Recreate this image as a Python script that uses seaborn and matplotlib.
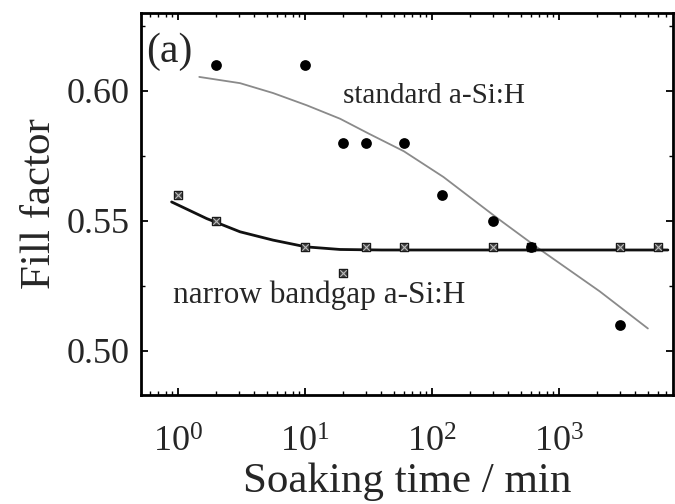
import numpy as np
import pandas as pd
import matplotlib
matplotlib.use("Agg")
import matplotlib.pyplot as plt
import seaborn as sns
from matplotlib.ticker import LogLocator, MultipleLocator, FixedLocator, FormatStrFormatter, NullFormatter

# ---- data ----
std_time = [2, 10, 20, 30, 60, 120, 300, 600, 3000]
std_ff = [0.61, 0.61, 0.58, 0.58, 0.58, 0.56, 0.55, 0.54, 0.51]

nb_time = [1, 2, 10, 20, 30, 60, 300, 600, 3000, 6000]
nb_ff = [0.56, 0.55, 0.54, 0.53, 0.54, 0.54, 0.54, 0.54, 0.54, 0.54]

# fitted guide curves
std_fit_time = [1.47, 3.08, 5.6, 10.3, 18.9, 32, 60, 123, 324, 708, 2090, 5010]
std_fit_ff = [0.6054, 0.6030, 0.5992, 0.5945, 0.5893, 0.5835, 0.5768, 0.5669, 0.5512, 0.5390, 0.5229, 0.5086]

nb_fit_time = [0.89, 1.68, 3.08, 5.6, 10.2, 18.9, 40, 7200]
nb_fit_ff = [0.5573, 0.5509, 0.5458, 0.5426, 0.5400, 0.5390, 0.5388, 0.5388]

y_ticks = [0.50, 0.55, 0.60]
x_ticks = [1, 10, 100, 1000]

sns.set_theme(style="ticks")
plt.rcParams['font.family'] = ['Liberation Serif', 'DejaVu Serif']
plt.rcParams['mathtext.fontset'] = 'custom'
plt.rcParams['mathtext.rm'] = 'Liberation Serif'

fig = plt.figure(figsize=(6.75, 5.04), dpi=100)
ax = fig.add_axes([141/675, 1 - 395/504, (673 - 141)/675, (395 - 13)/504])

std_df = pd.DataFrame({"t": std_time, "ff": std_ff})
nb_df = pd.DataFrame({"t": nb_time, "ff": nb_ff})
stdfit_df = pd.DataFrame({"t": std_fit_time, "ff": std_fit_ff})
nbfit_df = pd.DataFrame({"t": nb_fit_time, "ff": nb_fit_ff})

sns.lineplot(data=stdfit_df, x="t", y="ff", ax=ax, color="#8a8a8a", lw=1.3,
             sort=False, estimator=None)
sns.lineplot(data=nbfit_df, x="t", y="ff", ax=ax, color="#111111", lw=2.0,
             sort=False, estimator=None)

sns.scatterplot(data=nb_df, x="t", y="ff", ax=ax, marker="s", s=40,
                color="#444444", edgecolor="#1a1a1a", linewidth=1.0, zorder=4)
sns.scatterplot(data=nb_df, x="t", y="ff", ax=ax, marker="x", s=22,
                color="#bbbbbb", linewidth=0.8, zorder=5)
sns.scatterplot(data=std_df, x="t", y="ff", ax=ax, marker="o", s=60,
                color="black", edgecolor="black", linewidth=0, zorder=6)

ax.set_xscale("log")
ax.set_xlim(0.511, 7900)
ax.set_ylim(0.483, 0.630)

ax.xaxis.set_major_locator(FixedLocator(x_ticks))
ax.xaxis.set_minor_locator(LogLocator(base=10, subs=np.arange(2, 10), numticks=20))
ax.xaxis.set_minor_formatter(NullFormatter())
ax.set_xticklabels([r"$\mathdefault{10^{%d}}$" % int(np.log10(v)) for v in x_ticks])
ax.yaxis.set_major_locator(FixedLocator(y_ticks))
ax.yaxis.set_major_formatter(FormatStrFormatter("%.2f"))
ax.yaxis.set_minor_locator(MultipleLocator(0.025))

ax.tick_params(which="both", direction="in", top=True, right=True, color="black")
ax.tick_params(which="major", length=5, width=1.3, labelsize=26)
ax.tick_params(axis="x", which="major", pad=23)
ax.tick_params(axis="y", which="major", pad=8)
ax.tick_params(which="minor", length=3, width=1.0)
for sp in ax.spines.values():
    sp.set_linewidth(2.0)
    sp.set_color("black")

ax.set_xlabel("Soaking time / min", fontsize=31, labelpad=2)
ax.set_ylabel("Fill factor", fontsize=31, labelpad=6)

ax.text(0.009, 0.95, "(a)", transform=ax.transAxes, fontsize=30, va="top", ha="left")
ax.text(20, 0.5982, "standard a-Si:H", fontsize=21, ha="left", va="center")
ax.text(0.905, 0.5215, "narrow bandgap a-Si:H", fontsize=22.5, ha="left", va="center")

fig.savefig("out.png", dpi=100)
